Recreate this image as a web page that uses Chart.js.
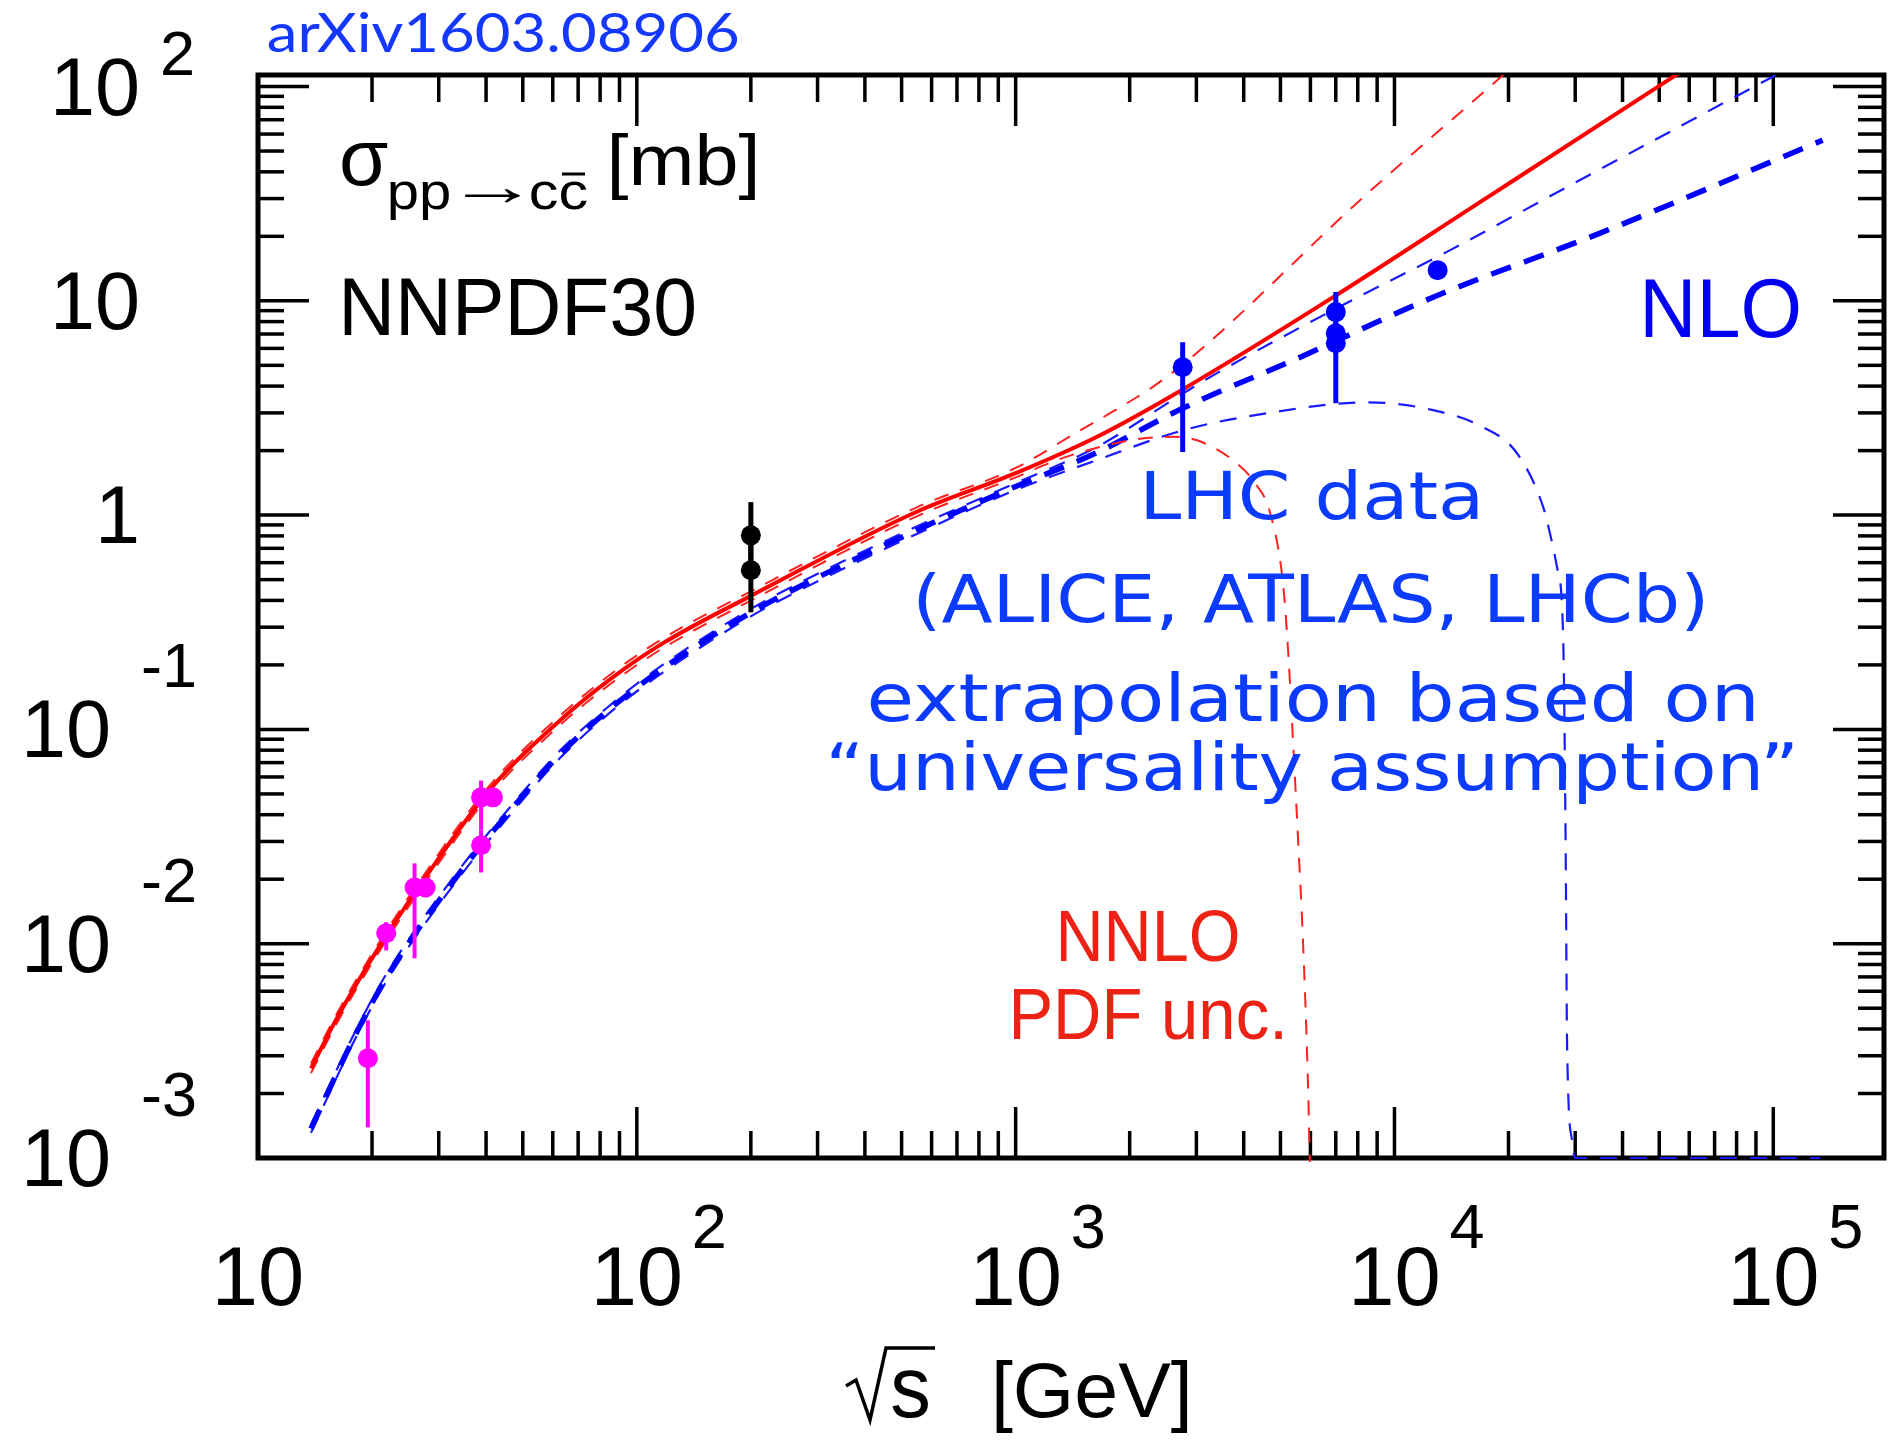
<!DOCTYPE html>
<html>
<head>
<meta charset="utf-8">
<script src="https://cdn.jsdelivr.net/npm/chart.js@4.4.1/dist/chart.umd.min.js"></script>
<style>
  html, body { margin: 0; padding: 0; background: #fff; }
  #wrap { width: 1895px; height: 1441px; }
</style>
</head>
<body>
<div id="wrap"><canvas id="c" width="1895" height="1441"></canvas></div>
<script>
// NNLO central (red solid) and PDF uncertainty (red thin dashed)
const nnloE     = [13.8, 16.2, 21, 27.3, 41, 63, 86, 117, 200, 550, 1000, 1630, 2740, 6890, 17140, 55300, 80000];
const nnloSigma = [0.00262, 0.00453, 0.00982, 0.0197, 0.0525, 0.111, 0.174, 0.252, 0.420, 1.04, 1.57, 2.31, 3.83, 10.4, 29.5, 113, 173];
const nnloUpE   = [13.8, 16.2, 21, 27.3, 41, 63, 86, 117, 200, 550, 1000, 1460, 1775, 2317, 3070, 8110, 19000, 25000];
const nnloUp    = [0.00276, 0.00476, 0.0103, 0.0207, 0.0551, 0.1166, 0.183, 0.265, 0.441, 1.09, 1.66, 2.45, 2.99, 4.0, 5.89, 29.5, 110, 170];
const nnloDnE   = [13.8, 16.2, 21, 27.3, 41, 63, 86, 117, 200, 550, 1000, 1300, 1671, 2130, 2600, 3000, 3750, 4300, 4700, 5085, 5250, 5395, 5570, 5740, 5900, 5985];
const nnloDn    = [0.00249, 0.00430, 0.00933, 0.0187, 0.0499, 0.1055, 0.165, 0.239, 0.399, 0.99, 1.50, 1.82, 2.08, 2.27, 2.32, 2.24, 1.80, 1.40, 1.02, 0.47, 0.22, 0.090, 0.030, 0.0099, 0.0025, 0.0009];

// NLO central (blue thick dashed) and PDF uncertainty (blue thin dashed)
const nloE      = [13.8, 18.2, 22, 34, 46.3, 62.7, 86, 117, 200, 270, 550, 1000, 1630, 2770, 5640, 12650, 34900, 135000];
const nloSigma  = [0.00137, 0.00385, 0.00711, 0.0213, 0.0417, 0.0766, 0.127, 0.192, 0.351, 0.466, 0.853, 1.36, 1.95, 3.16, 5.46, 10.4, 20.7, 56.2];
const nloUpE    = [13.8, 18.2, 22, 34, 46.3, 62.7, 86, 117, 200, 270, 550, 1000, 1630, 2770, 3400, 6890, 13990, 28560, 98600, 135000];
const nloUp     = [0.00143, 0.00400, 0.00740, 0.0222, 0.0434, 0.0797, 0.132, 0.200, 0.365, 0.485, 0.887, 1.41, 2.07, 3.70, 4.60, 9.06, 17.2, 34.0, 110, 148];
const nloDnE    = [13.8, 18.2, 22, 34, 46.3, 62.7, 86, 117, 200, 270, 550, 1000, 1630, 2770, 4610, 8470, 12650, 17150, 21080, 24700, 25760, 26860, 27880, 28300, 28560, 29440, 30000, 60000, 133000];
const nloDn     = [0.00131, 0.00370, 0.00683, 0.0204, 0.0400, 0.0735, 0.122, 0.184, 0.337, 0.447, 0.819, 1.31, 1.80, 2.49, 2.99, 3.36, 3.09, 2.57, 1.94, 1.09, 0.815, 0.571, 0.272, 0.03, 0.0033, 0.0012, 0.001, 0.001, 0.001];

// measurements
const ftE      = [19.5, 21.8, 25.9, 27.7, 38.8, 38.8, 41.7];
const ftSigma  = [0.00292, 0.0112, 0.0183, 0.0183, 0.0288, 0.0482, 0.0482];
const ftLo     = [0.00139, 0.0093, 0.00855, 0.0176, 0.0215, 0.0341, 0.0435];
const ftHi     = [0.00439, 0.0126, 0.0237, 0.0191, 0.0341, 0.0577, 0.0535];
const rhicE     = [200, 200];
const rhicSigma = [0.805, 0.553];
const rhicLo    = [0.553, 0.352];
const rhicHi    = [1.15, 0.805];
const lhcE     = [2760, 7000, 7000, 7000, 13000];
const lhcSigma = [4.90, 8.86, 7.06, 6.34, 13.9];
const lhcLo    = [1.97, 7.06, 6.34, 3.33, 13.3];
const lhcHi    = [6.41, 11.0, 8.86, 7.06, 14.5];

// axis decades that carry labels
const xPowers = [1, 2, 3, 4, 5];
const yPowers = [-3, -2, -1, 0, 1, 2];

const HELV = '"Liberation Sans", Arial, Helvetica, sans-serif';
const HAND = '"DejaVu Sans", sans-serif';

const pts = (xs, ys) => xs.map((x, i) => ({ x, y: ys[i] }));

function curve(xs, ys, color, width, dash) {
  return {
    data: pts(xs, ys), showLine: true, borderColor: color, borderWidth: width,
    borderDash: dash, pointRadius: 0, cubicInterpolationMode: 'monotone', fill: false,
    clip: { left: 0, top: 0, right: 0, bottom: 4 }
  };
}

function marks(xs, ys, color, lo, hi, barWidth) {
  return {
    data: pts(xs, ys), showLine: false, pointRadius: 10, pointHoverRadius: 10,
    pointBackgroundColor: color, pointBorderWidth: 0,
    errLo: lo, errHi: hi, barColor: color, barWidth: barWidth
  };
}

// draw text so that its ink starts at inkLeft and is inkWidth wide
function fitText(ctx, text, inkLeft, baseline, inkWidth, font, color) {
  ctx.save();
  ctx.font = font;
  ctx.fillStyle = color;
  ctx.textAlign = 'left';
  ctx.textBaseline = 'alphabetic';
  const m = ctx.measureText(text);
  const w = m.actualBoundingBoxLeft + m.actualBoundingBoxRight;
  const sx = inkWidth / w;
  ctx.translate(inkLeft + m.actualBoundingBoxLeft * sx, baseline);
  ctx.scale(sx, 1);
  ctx.fillText(text, 0, 0);
  ctx.restore();
}

const errorBars = {
  id: 'errorBars',
  beforeDatasetDraw(chart, args) {
    const ds = chart.data.datasets[args.index];
    if (!ds.errLo) return;
    const { ctx, scales: { x, y } } = chart;
    ctx.save();
    ctx.strokeStyle = ds.barColor;
    ctx.lineWidth = ds.barWidth;
    ds.data.forEach((p, i) => {
      const px = x.getPixelForValue(p.x);
      ctx.beginPath();
      ctx.moveTo(px, y.getPixelForValue(ds.errLo[i]));
      ctx.lineTo(px, y.getPixelForValue(ds.errHi[i]));
      ctx.stroke();
    });
    ctx.restore();
  }
};

const frame = {
  id: 'frame',
  beforeDatasetsDraw(chart) {
    const { ctx, chartArea: a, scales: { x, y } } = chart;
    ctx.save();
    ctx.strokeStyle = '#000';
    ctx.lineWidth = 3.5;
    const seg = (x1, y1, x2, y2) => { ctx.beginPath(); ctx.moveTo(x1, y1); ctx.lineTo(x2, y2); ctx.stroke(); };
    // x ticks, bottom and top, pointing inwards
    for (let e = 1; e <= 5; e++) {
      for (let k = 1; k <= 9; k++) {
        const v = k * Math.pow(10, e);
        if (v > x.max) continue;
        const px = x.getPixelForValue(v);
        const len = k === 1 ? 51 : 27;
        seg(px, a.bottom, px, a.bottom - len);
        seg(px, a.top, px, a.top + len);
      }
    }
    // y ticks, left and right
    for (let e = -3; e <= 2; e++) {
      for (let k = 1; k <= 9; k++) {
        const v = k * Math.pow(10, e);
        if (v > y.max * 1.0001) continue;
        const py = y.getPixelForValue(v);
        const len = k === 1 ? 51 : 26;
        seg(a.left, py, a.left + len, py);
        seg(a.right, py, a.right - len, py);
      }
    }
    ctx.lineWidth = 5;
    ctx.strokeRect(a.left, a.top, a.right - a.left, a.bottom - a.top);
    ctx.restore();
  }
};

const labels = {
  id: 'labels',
  afterDraw(chart) {
    const { ctx, scales: { x, y } } = chart;
    ctx.save();
    ctx.fillStyle = '#000';
    ctx.textBaseline = 'alphabetic';

    // y axis: 10^n
    yPowers.forEach(p => {
      const base = y.getPixelForValue(Math.pow(10, p)) + 28;
      ctx.font = '81px ' + HELV;
      ctx.textAlign = 'right';
      if (p === 0) { ctx.fillText('1', 140, base); return; }
      if (p === 1) { ctx.fillText('10', 140, base); return; }
      if (p > 0) {
        ctx.fillText('10', 140, base);
        ctx.font = '63px ' + HELV; ctx.textAlign = 'left';
        ctx.fillText(String(p), 160, base - 40);
      } else {
        ctx.fillText('10', 111, base);
        ctx.font = '63px ' + HELV; ctx.textAlign = 'left';
        ctx.fillText(String(p), 141, base - 70);
      }
    });

    // x axis: 10^n
    xPowers.forEach(p => {
      const px = x.getPixelForValue(Math.pow(10, p));
      ctx.font = '83px ' + HELV;
      ctx.textAlign = 'center';
      ctx.fillText('10', px, 1305);
      if (p > 1) {
        ctx.font = '63px ' + HELV; ctx.textAlign = 'left';
        ctx.fillText(String(p), px + 55, 1248);
      }
    });

    // x title: sqrt(s) [GeV]
    ctx.strokeStyle = '#000';
    ctx.lineWidth = 3.5;
    ctx.lineJoin = 'miter';
    ctx.beginPath();
    ctx.moveTo(846, 1386); ctx.lineTo(856, 1380); ctx.lineTo(870, 1420);
    ctx.lineTo(886, 1348); ctx.lineTo(935, 1348);
    ctx.stroke();
    ctx.restore();
    fitText(ctx, 's', 892, 1417, 36, '88px ' + HELV, '#000');
    fitText(ctx, '[GeV]', 996, 1417, 192, '78px ' + HELV, '#000');

    // y title block
    fitText(ctx, 'σ', 342, 185, 46, '80px ' + HELV, '#000');
    fitText(ctx, 'pp', 390, 209, 59, '52px ' + HELV, '#000');
    fitText(ctx, '→', 464, 205, 56, '56px ' + HELV, '#000');
    fitText(ctx, 'cc', 531, 209, 56, '52px ' + HELV, '#000');
    ctx.save();
    ctx.strokeStyle = '#000'; ctx.lineWidth = 3;
    ctx.beginPath(); ctx.moveTo(562, 174); ctx.lineTo(585, 174); ctx.stroke();
    ctx.restore();
    fitText(ctx, '[mb]', 612, 185, 143, '72px ' + HELV, '#000');

    fitText(ctx, 'NNPDF30', 344, 335, 350, '81px ' + HELV, '#000');
    fitText(ctx, 'NLO', 1645, 337, 154, '84px ' + HELV, '#0000f5');
    fitText(ctx, 'NNLO', 1060, 961, 178, '73px ' + HELV, '#eb2214');
    fitText(ctx, 'PDF unc.', 1013, 1039, 269, '73px ' + HELV, '#eb2214');

    fitText(ctx, 'arXiv1603.08906', 268, 52, 469, '54px Lato, ' + HELV, '#1438ff');

    const hand = '#0b3bff';
    fitText(ctx, 'LHC data', 1146, 519, 332, '66px ' + HAND, hand);
    fitText(ctx, '(ALICE, ATLAS, LHCb)', 918, 622, 786, '66px ' + HAND, hand);
    fitText(ctx, 'extrapolation based on', 870, 721, 884, '66px ' + HAND, hand);
    fitText(ctx, '\u201Cuniversality assumption\u201D', 831, 790, 962, '66px ' + HAND, hand);
  }
};

const RED = '#ff0000';
const RED_THIN = '#ff2020';
const BLUE = '#0000ff';
const BLUE_THIN = '#1a1aff';

new Chart(document.getElementById('c'), {
  type: 'scatter',
  data: {
    datasets: [
      marks(lhcE, lhcSigma, '#0000ff', lhcLo, lhcHi, 5),
      marks(rhicE, rhicSigma, '#000000', rhicLo, rhicHi, 5),
      marks(ftE, ftSigma, '#ff00ff', ftLo, ftHi, 4),
      curve(nnloE, nnloSigma, RED, 4, []),
      curve(nnloUpE, nnloUp, RED_THIN, 2, [15, 12]),
      curve(nnloDnE, nnloDn, RED_THIN, 2, [15, 12]),
      curve(nloE, nloSigma, BLUE, 5.5, [21, 14]),
      curve(nloUpE, nloUp, BLUE_THIN, 2.2, [17, 13]),
      curve(nloDnE, nloDn, BLUE_THIN, 2.2, [17, 13])
    ]
  },
  options: {
    responsive: false,
    animation: false,
    devicePixelRatio: 1,
    events: [],
    layout: { padding: { left: 0, top: 75, right: 11, bottom: 0 } },
    plugins: { legend: { display: false }, tooltip: { enabled: false } },
    scales: {
      x: {
        type: 'logarithmic', min: 10, max: 1.96e5,
        ticks: { display: false }, grid: { display: false }, border: { display: false },
        afterFit(s) { s.height = 283; }
      },
      y: {
        type: 'logarithmic', min: 1e-3, max: 113.2,
        ticks: { display: false }, grid: { display: false }, border: { display: false },
        afterFit(s) { s.width = 258; }
      }
    }
  },
  plugins: [frame, errorBars, labels]
});
</script>
</body>
</html>
